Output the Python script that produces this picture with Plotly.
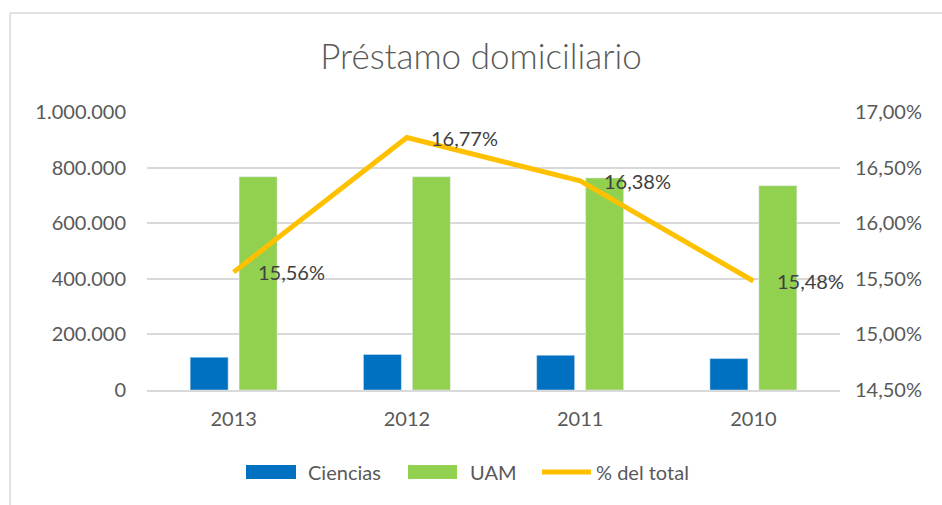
import plotly.graph_objects as go

years = ["2013", "2012", "2011", "2010"]
ciencias = [118000, 128000, 125000, 113000]
uam = [767000, 767000, 763000, 735000]
pct_total = [0.1556, 0.1677, 0.1638, 0.1548]
pct_labels = ["15,56%", "16,77%", "16,38%", "15,48%"]
series_names = ["Ciencias", "UAM", "% del total"]
series_colors = ["#0070C0", "#92D050", "#FFC000"]

FONT = "Lato, Carlito, Calibri, sans-serif"
TXT = "#595959"
W, H = 942, 505
L, R, T, B = 147, 102, 112, 115
pw, ph = W - L - R, H - T - B


def px(x):
    return (x - L) / pw


def py(y):
    return (H - B - y) / ph


fig = go.Figure()
fig.add_trace(go.Bar(x=years, y=ciencias, name=series_names[0], marker_color=series_colors[0]))
fig.add_trace(go.Bar(x=years, y=uam, name=series_names[1], marker_color=series_colors[1]))
fig.add_trace(go.Scatter(x=years, y=pct_total, name=series_names[2], yaxis="y2",
                         mode="lines", line=dict(color=series_colors[2], width=5)))

# data labels (category index positions on the category axis)
for i, (y, t) in enumerate(zip(pct_total, pct_labels)):
    fig.add_annotation(x=i, y=y, xref="x", yref="y2", text=t, showarrow=False,
                       xanchor="left", yanchor="middle", xshift=22,
                       font=dict(size=20, color="#404040", family=FONT))

# chart frame (top and left edges visible)
fig.add_shape(type="line", xref="paper", yref="paper",
              x0=px(10), x1=px(960), y0=py(13), y1=py(13),
              line=dict(color="#D9D9D9", width=1.5))
fig.add_shape(type="line", xref="paper", yref="paper",
              x0=px(10), x1=px(10), y0=py(13), y1=py(520),
              line=dict(color="#D9D9D9", width=1.5))

# custom legend with wide swatches
fig.add_shape(type="rect", xref="paper", yref="paper", x0=px(246), x1=px(296),
              y0=py(479), y1=py(465), fillcolor=series_colors[0], line=dict(width=0))
fig.add_shape(type="rect", xref="paper", yref="paper", x0=px(408), x1=px(457),
              y0=py(479), y1=py(465), fillcolor=series_colors[1], line=dict(width=0))
fig.add_shape(type="line", xref="paper", yref="paper", x0=px(542), x1=px(591),
              y0=py(472), y1=py(472), line=dict(color=series_colors[2], width=5))
for xx, name in zip([306, 468, 594], series_names):
    fig.add_annotation(xref="paper", yref="paper", x=px(xx), y=py(472), text=name,
                       showarrow=False, xanchor="left", yanchor="middle",
                       font=dict(size=20, color=TXT, family=FONT))

fig.update_layout(
    width=W, height=H,
    margin=dict(l=L, r=R, t=T, b=B, autoexpand=False),
    paper_bgcolor="white", plot_bgcolor="white",
    separators=",.",
    font=dict(family=FONT, size=20, color=TXT),
    title=dict(text="Préstamo domiciliario", x=481 / W, xref="container", xanchor="center",
               y=1 - 57 / H, yanchor="middle", yref="container",
               font=dict(size=35, color=TXT, family=FONT, weight=300)),
    barmode="group", bargap=0.435, bargroupgap=0.224,
    showlegend=False,
    xaxis=dict(type="category", range=[-0.5, len(years) - 0.5], showgrid=False,
               showline=True, linecolor="#D9D9D9", linewidth=1.5, ticks="",
               ticklabelstandoff=10, tickfont=dict(size=20, color=TXT)),
    yaxis=dict(range=[0, 1000000], dtick=200000, tickformat=",d",
               gridcolor="#D9D9D9", gridwidth=1.5, zeroline=False, showline=False,
               ticks="", ticklabelstandoff=20, tickfont=dict(size=20, color=TXT)),
    yaxis2=dict(range=[0.145, 0.17], dtick=0.005, tickformat=".2%", overlaying="y",
                side="right", showgrid=False, zeroline=False, showline=False,
                ticks="", ticklabelstandoff=14, tickfont=dict(size=20, color=TXT)),
)

fig.write_html("out.html", config={"displayModeBar": False},
               post_script="document.body.style.margin='0';")
